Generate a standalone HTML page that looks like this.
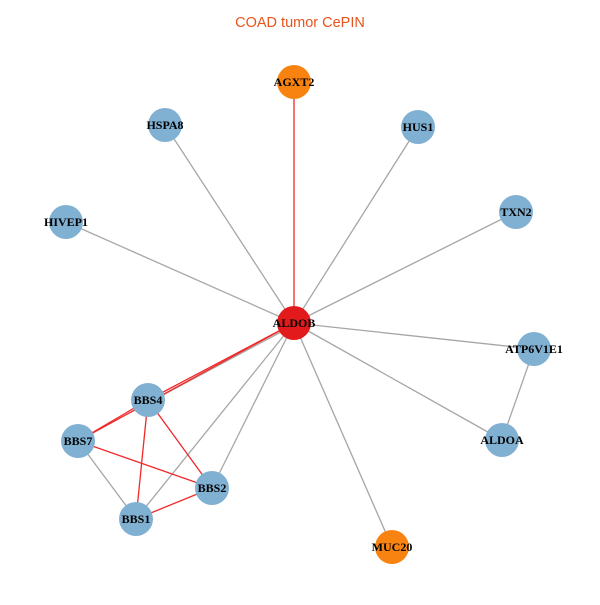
<!DOCTYPE html>
<html><head><style>body{margin:0;background:#fff}</style></head><body>
<svg width="600" height="600" xmlns="http://www.w3.org/2000/svg">
<rect width="600" height="600" fill="#fff"/>
<text x="300" y="27" text-anchor="middle" font-family="Liberation Sans, sans-serif" font-size="14.5" fill="#e8541c">COAD tumor CePIN</text>
<g stroke="#a6a6a6" stroke-width="1.3">
<line x1="294" y1="323" x2="165" y2="125"/>
<line x1="294" y1="323" x2="418" y2="127"/>
<line x1="294" y1="323" x2="66" y2="222"/>
<line x1="294" y1="323" x2="516" y2="212"/>
<line x1="294" y1="323" x2="534" y2="349"/>
<line x1="294" y1="323" x2="502" y2="440"/>
<line x1="294" y1="323" x2="392" y2="547"/>
<line x1="294" y1="323" x2="136" y2="519"/>
<line x1="294" y1="323" x2="212" y2="488"/>
<line x1="296" y1="324" x2="150" y2="402"/>
<line x1="534" y1="349" x2="502" y2="440"/>
<line x1="78" y1="441" x2="136" y2="519"/>
</g>
<g stroke="#f02828" stroke-width="1.3">
<line x1="294" y1="82" x2="294" y2="323"/>
<line x1="294" y1="323" x2="148" y2="400"/>
<line x1="294" y1="323" x2="78" y2="441"/>
<line x1="148" y1="400" x2="78" y2="441"/>
<line x1="148" y1="400" x2="136" y2="519"/>
<line x1="148" y1="400" x2="212" y2="488"/>
<line x1="78" y1="441" x2="212" y2="488"/>
<line x1="136" y1="519" x2="212" y2="488"/>
</g>
<g fill="#80b0d2">
<circle cx="165" cy="125" r="17"/><circle cx="418" cy="127" r="17"/>
<circle cx="66" cy="222" r="17"/><circle cx="516" cy="212" r="17"/>
<circle cx="534" cy="349" r="17"/><circle cx="502" cy="440" r="17"/>
<circle cx="148" cy="400" r="17"/><circle cx="78" cy="441" r="17"/>
<circle cx="212" cy="488" r="17"/><circle cx="136" cy="519" r="17"/>
</g>
<circle cx="294" cy="82" r="17" fill="#f88310"/>
<circle cx="392" cy="547" r="17" fill="#f88310"/>
<circle cx="294" cy="323" r="17" fill="#e31a1c"/>
<g font-family="Liberation Serif, serif" font-weight="bold" font-size="12" text-anchor="middle" fill="#000">
<text x="294" y="86">AGXT2</text>
<text x="165" y="129">HSPA8</text>
<text x="418" y="131">HUS1</text>
<text x="66" y="226">HIVEP1</text>
<text x="516" y="216">TXN2</text>
<text x="534" y="353">ATP6V1E1</text>
<text x="502" y="444">ALDOA</text>
<text x="392" y="551">MUC20</text>
<text x="294" y="327">ALDOB</text>
<text x="148" y="404">BBS4</text>
<text x="78" y="445">BBS7</text>
<text x="212" y="492">BBS2</text>
<text x="136" y="523">BBS1</text>
</g>
</svg>
</body></html>
